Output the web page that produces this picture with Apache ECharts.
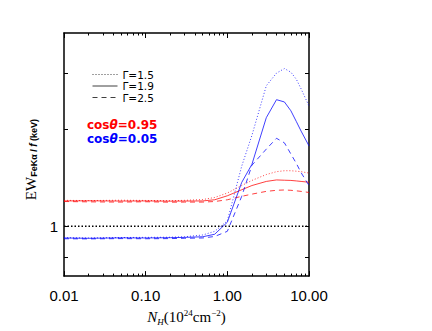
<!DOCTYPE html>
<html><head><meta charset="utf-8">
<script src="https://cdn.jsdelivr.net/npm/echarts@6/dist/echarts.min.js"></script>
<style>html,body{margin:0;padding:0;background:#fff}#c{width:432px;height:331px}</style>
</head><body><div id="c"></div>
<script>
// N_H grid (10^24 cm^-2)
const nh = [0.01,0.02,0.05,0.1,0.2,0.3,0.5,0.7,1.0,1.5,2,3,4,5,6,7,8,10];
// cos(theta)=0.95 (red)
const redG15 = [1.205,1.203,1.206,1.204,1.202,1.205,1.212,1.23,1.27,1.34,1.39,1.45,1.48,1.49,1.49,1.485,1.48,1.465];
const redG19 = [1.200,1.201,1.199,1.200,1.198,1.199,1.200,1.21,1.245,1.30,1.34,1.38,1.395,1.392,1.39,1.385,1.38,1.372];
const redG25 = [1.195,1.192,1.190,1.193,1.189,1.190,1.190,1.195,1.21,1.24,1.26,1.285,1.295,1.298,1.295,1.29,1.285,1.275];
// cos(theta)=0.05 (blue)
const blueG15 = [0.922,0.920,0.923,0.924,0.925,0.928,0.94,0.965,1.04,1.54,1.92,2.74,3.0,3.1,3.02,2.87,2.68,2.37];
const blueG19 = [0.920,0.918,0.921,0.920,0.922,0.924,0.928,0.945,1.03,1.37,1.56,2.18,2.48,2.44,2.29,2.12,1.98,1.78];
const blueG25 = [0.915,0.914,0.916,0.915,0.916,0.918,0.920,0.93,0.965,1.24,1.55,1.74,1.88,1.82,1.68,1.57,1.47,1.34];
// reference line EW/f = 1
const unityX = [0.01, 10];
const unityY = [1, 1];
// ticks and labels
const xMajorTicks = [0.01, 0.1, 1, 10];
const xMinorTicks = [0.02,0.03,0.04,0.05,0.06,0.07,0.08,0.09,0.2,0.3,0.4,0.5,0.6,0.7,0.8,0.9,2,3,4,5,6,7,8,9];
const xTickLabels = [0.01, 0.1, 1, 10];
const yTicks = [0.8, 1, 2, 3];
const yTickLabels = [1];
const legendNames = ['Γ=1.5', 'Γ=1.9', 'Γ=2.5'];
const angleNote = '{ra|cos}{rb|θ}{ra|=0.95}\n{ba|cos}{bb|θ}{ba|=0.05}';

const pairs = (xs, ys) => xs.map((x, i) => [x, ys[i]]);
const chart = echarts.init(document.getElementById('c'), null, {renderer: 'svg'});

const baseX = {type: 'log', min: 0.01, max: 10, splitLine: {show: false}, axisLabel: {show: false}};
const baseY = {type: 'log', min: 0.7, max: 4, splitLine: {show: false}, axisLabel: {show: false}};
const black = '#000';
const RED = '#ff0000', BLUE = '#0000ff';

function line(name, data, color, type) {
  return {
    type: 'line', name, data, symbol: 'none', showSymbol: false, silent: true,
    lineStyle: {color, width: 1, type, opacity: 0.75},
    itemStyle: {color}
  };
}
const noteFont = (color, italic) => ({fontFamily: 'DejaVu Sans', fontWeight: 'bold',
  fontStyle: italic ? 'italic' : 'normal', fontSize: 12, lineHeight: 14, fill: color, color});

chart.setOption({
  animation: false,
  backgroundColor: '#fff',
  grid: {left: 64, right: 123, top: 33, bottom: 54},
  xAxis: [
    Object.assign({}, baseX, {
      position: 'bottom',
      axisLine: {show: true, lineStyle: {color: black, width: 1.5}},
      axisTick: {show: true, inside: true, length: 5, customValues: xMajorTicks, lineStyle: {color: black, width: 1}},
      axisLabel: {show: true, customValues: xTickLabels, formatter: v => Number(v).toFixed(2),
        fontSize: 15, color: black, fontFamily: 'Liberation Sans', margin: 12},
      name: '{n|N}{h|H}{t|(10}{s|24}{t|cm}{s|−2}{t|)}',
      nameLocation: 'middle', nameGap: 24,
      nameTextStyle: {
        color: black,
        rich: {
          n: {fontFamily: 'Liberation Serif', fontStyle: 'italic', fontSize: 15, lineHeight: 18, color: black},
          h: {fontFamily: 'Liberation Serif', fontStyle: 'italic', fontSize: 9, lineHeight: 9, verticalAlign: 'bottom', color: black},
          t: {fontFamily: 'Liberation Serif', fontSize: 15, lineHeight: 18, color: black},
          s: {fontFamily: 'Liberation Serif', fontSize: 9, lineHeight: 9, verticalAlign: 'top', color: black}
        }
      }
    }),
    Object.assign({}, baseX, {
      position: 'bottom', axisLine: {show: false},
      axisTick: {show: true, inside: true, length: 2.5, customValues: xMinorTicks, lineStyle: {color: black, width: 1}}
    }),
    Object.assign({}, baseX, {
      position: 'top',
      axisLine: {show: true, lineStyle: {color: black, width: 1.5}},
      axisTick: {show: true, inside: true, length: 5, customValues: xMajorTicks, lineStyle: {color: black, width: 1}}
    }),
    Object.assign({}, baseX, {
      position: 'top', axisLine: {show: false},
      axisTick: {show: true, inside: true, length: 2.5, customValues: xMinorTicks, lineStyle: {color: black, width: 1}}
    })
  ],
  yAxis: [
    Object.assign({}, baseY, {
      position: 'left',
      axisLine: {show: true, lineStyle: {color: black, width: 1.5}},
      axisTick: {show: true, inside: true, length: 4, customValues: yTicks, lineStyle: {color: black, width: 1}},
      axisLabel: {show: true, customValues: yTickLabels, formatter: v => String(Math.round(v * 100) / 100),
        fontSize: 15, color: black, fontFamily: 'Liberation Sans', margin: 6},
      name: '{ew|EW}{sub|FeKα / }{f|f}{sub| (keV)}',
      nameLocation: 'middle', nameRotate: 90, nameGap: 14,
      nameTextStyle: {
        color: black, padding: [0, 10, 0, 0],
        rich: {
          ew: {fontFamily: 'Liberation Serif', fontSize: 15, lineHeight: 16, color: black},
          sub: {fontFamily: 'Liberation Sans', fontWeight: 'bold', fontSize: 9, lineHeight: 10, verticalAlign: 'bottom', color: black},
          f: {fontFamily: 'Liberation Sans', fontWeight: 'bold', fontStyle: 'italic', fontSize: 10, lineHeight: 11, verticalAlign: 'bottom', color: black}
        }
      }
    }),
    Object.assign({}, baseY, {
      position: 'right',
      axisLine: {show: true, lineStyle: {color: black, width: 1.5}},
      axisTick: {show: true, inside: true, length: 4, customValues: yTicks, lineStyle: {color: black, width: 1}}
    })
  ],
  legend: {
    left: 87, top: 64, orient: 'vertical', selectedMode: false,
    itemWidth: 25, itemHeight: 10, itemGap: 0.5,
    textStyle: {fontSize: 10.5, lineHeight: 11, color: black, fontFamily: 'DejaVu Sans'},
    data: [
      {name: legendNames[0], itemStyle: {color: black, opacity: 0}, lineStyle: {color: black, type: [1, 2], width: 1}},
      {name: legendNames[1], itemStyle: {color: black, opacity: 0}, lineStyle: {color: black, type: 'solid', width: 1}},
      {name: legendNames[2], itemStyle: {color: black, opacity: 0}, lineStyle: {color: black, type: [5, 4], width: 1}}
    ]
  },
  graphic: [
    {type: 'text', left: 87, top: 119, silent: true,
      style: {text: angleNote, fill: RED,
        rich: {ra: noteFont(RED, false), rb: noteFont(RED, true), ba: noteFont(BLUE, false), bb: noteFont(BLUE, true)}}}
  ],
  series: [
    Object.assign(line('unity', pairs(unityX, unityY), black, [1.5, 2]), {lineStyle: {color: black, width: 1.5, type: [1.5, 2]}}),
    line('cos0.95 Γ=1.5', pairs(nh, redG15), RED, [1, 2]),
    line('cos0.95 Γ=1.9', pairs(nh, redG19), RED, 'solid'),
    line('cos0.95 Γ=2.5', pairs(nh, redG25), RED, [5, 4]),
    line(legendNames[0], pairs(nh, blueG15), BLUE, [1, 2]),
    line(legendNames[1], pairs(nh, blueG19), BLUE, 'solid'),
    line(legendNames[2], pairs(nh, blueG25), BLUE, [5, 4])
  ]
});
</script>
</body></html>
